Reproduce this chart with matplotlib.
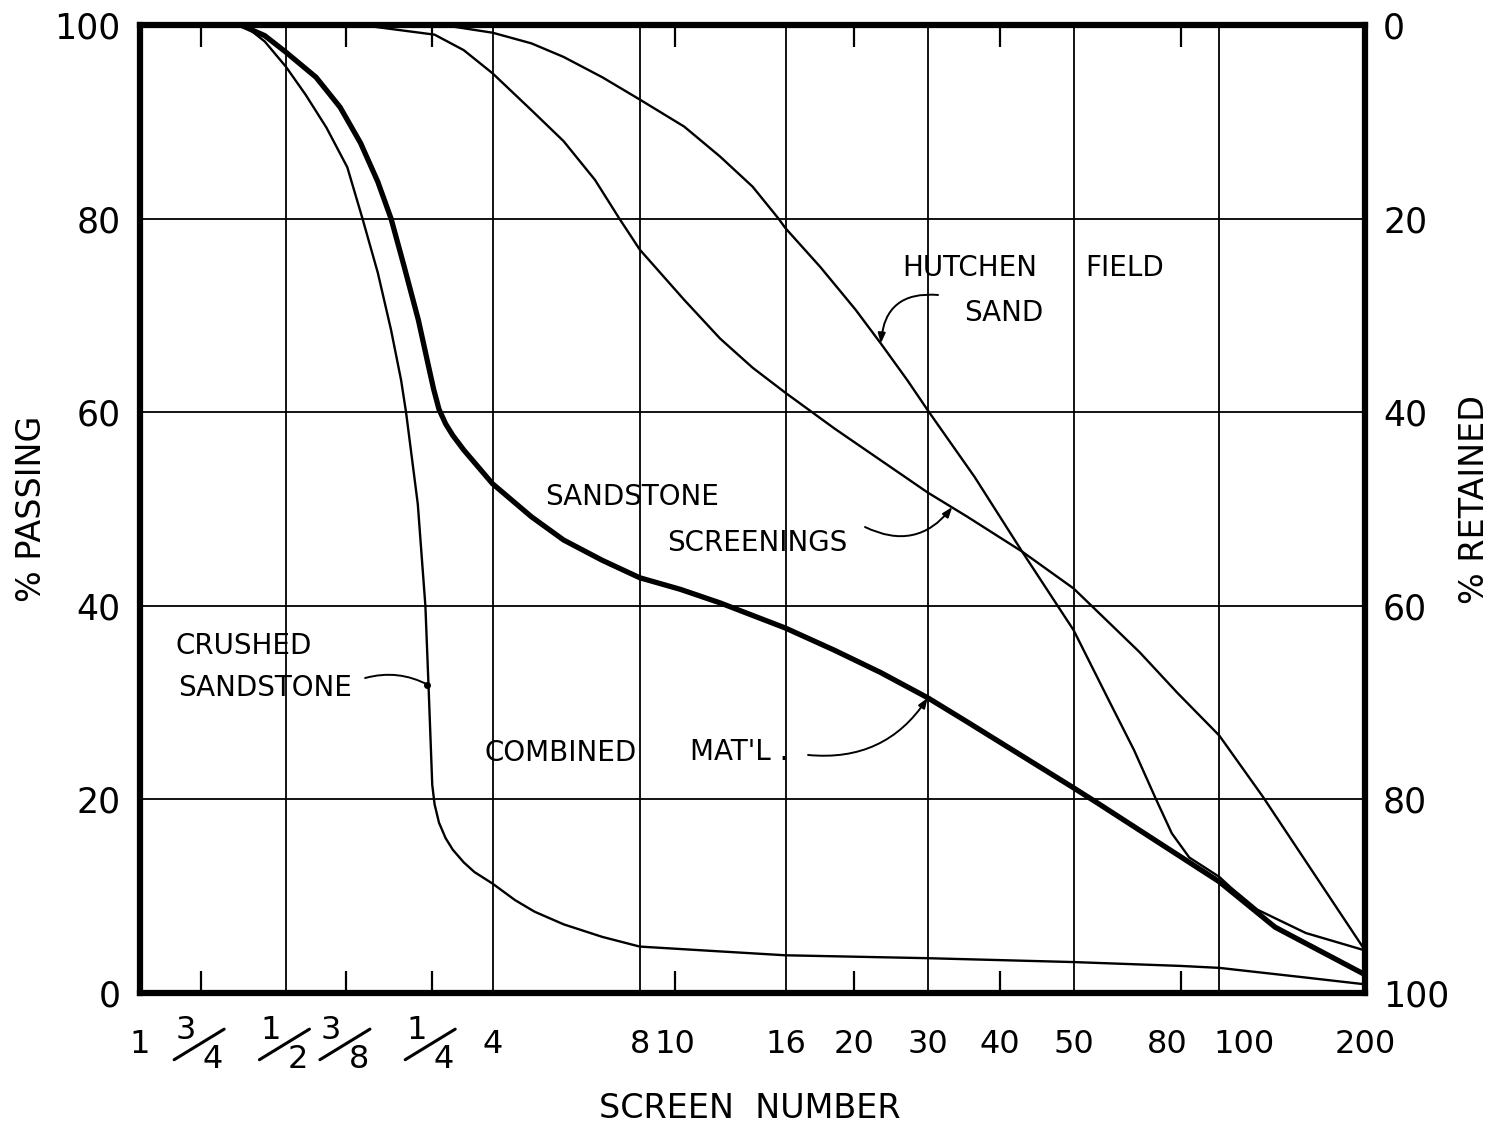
import matplotlib.pyplot as plt
import matplotlib.transforms as mtransforms
from matplotlib.ticker import NullFormatter

# screen openings (mm) and the way each screen is lettered on the chart
sieve_mm = [25.4, 19.05, 12.7, 9.525, 6.35, 4.75, 2.36, 2.0, 1.18, 0.85, 0.6, 0.425, 0.3, 0.18, 0.15, 0.075]
sieve_lbl = ['1', '3/4', '1/2', '3/8', '1/4', '4', '8', '10', '16', '20', '30', '40', '50', '80', '100', '200']
grid_mm = [12.7, 4.75, 2.36, 1.18, 0.6, 0.3, 0.15]
short_mm = [19.05, 9.525, 6.35, 2.0, 0.85, 0.425, 0.18]

# % passing for each material
crushed_mm = [15.5, 14.04, 12.7, 11.56, 10.47, 9.48, 8.82, 8.20, 7.70, 7.34, 7.17, 6.78, 6.54,
              6.44, 6.33, 6.26, 6.13, 5.94, 5.74, 5.45, 5.18, 4.75, 4.27, 3.89, 3.39, 2.82,
              2.36, 1.61, 1.18, 0.6, 0.3, 0.18, 0.15, 0.0994, 0.075]
crushed_pct = [100, 98.3, 95.7, 92.8, 89.4, 85.3, 80.0, 74.4, 68.5, 63.3, 60.0, 50.5, 40.0,
               31.5, 21.5, 19.5, 17.6, 16.0, 14.8, 13.5, 12.5, 11.3, 9.6, 8.4, 7.1, 5.8,
               4.8, 4.3, 3.9, 3.6, 3.2, 2.8, 2.6, 1.6, 0.9]

comb_mm = [15.75, 14.04, 12.7, 11.0, 9.81, 8.90, 8.20, 7.70, 7.23, 6.76, 6.44, 6.29, 6.13,
           5.94, 5.74, 5.45, 4.75, 3.95, 3.39, 2.82, 2.36, 1.945, 1.61, 1.18, 0.934, 0.75,
           0.6, 0.497, 0.3, 0.269, 0.15, 0.115, 0.075]
comb_pct = [100, 98.9, 97.2, 94.6, 91.5, 87.8, 83.8, 80.0, 75.0, 69.5, 64.7, 62.4, 60.3,
            58.8, 57.6, 56.1, 52.6, 49.2, 46.8, 44.7, 42.9, 41.7, 40.3, 37.7, 35.4, 33.1,
            30.5, 28.0, 21.2, 19.7, 11.5, 6.8, 1.9]

hut_mm = [6.03, 4.75, 3.95, 3.39, 2.82, 2.36, 1.91, 1.61, 1.38, 1.22, 1.18, 1.00, 0.846,
          0.75, 0.661, 0.6, 0.48, 0.383, 0.3, 0.254, 0.225, 0.203, 0.188, 0.173, 0.15,
          0.142, 0.125, 0.0994, 0.075]
hut_pct = [100, 99.2, 98.1, 96.7, 94.6, 92.3, 89.5, 86.4, 83.3, 80.0, 79.0, 75.0, 70.6,
           67.1, 63.3, 60.2, 53.3, 45.6, 37.5, 30.3, 25.1, 20.1, 16.5, 14.0, 12.0,
           10.9, 8.6, 6.2, 4.4]

scr_mm = [8.9, 6.26, 5.45, 4.75, 3.95, 3.39, 2.92, 2.60, 2.36, 1.91, 1.61, 1.38, 1.18,
          0.934, 0.6, 0.497, 0.383, 0.3, 0.219, 0.183, 0.15, 0.122, 0.075]
scr_pct = [100, 99.0, 97.4, 95.0, 91.2, 88.0, 84.0, 80.0, 76.8, 71.6, 67.6, 64.6, 62.0,
           58.3, 51.7, 49.2, 45.6, 41.8, 35.2, 31.0, 26.6, 20.3, 4.4]

plt.rcParams['font.family'] = 'DejaVu Sans'

fig = plt.figure(figsize=(14.93, 11.30), dpi=100)
ax = fig.add_axes([0.0938, 0.1212, 0.8205, 0.8567])

ax.plot(crushed_mm, crushed_pct, color='k', lw=1.7)
ax.plot(comb_mm, comb_pct, color='k', lw=3.8, solid_capstyle='round', solid_joinstyle='round')
ax.plot(hut_mm, hut_pct, color='k', lw=1.7)
ax.plot(scr_mm, scr_pct, color='k', lw=1.7)

ax.set_xscale('log')
ax.set_xlim(25.4, 0.075)
ax.set_ylim(0, 100)

ax2 = ax.twinx()
ax2.set_ylim(100, 0)
ax2.set_yticks([0, 20, 40, 60, 80, 100])
ax2.tick_params(axis='y', length=0, labelsize=25, pad=13)
for s in ax2.spines.values():
    s.set_visible(False)

ax.set_xticks(grid_mm)
ax.set_xticks(short_mm, minor=True)
ax.xaxis.set_major_formatter(NullFormatter())
ax.xaxis.set_minor_formatter(NullFormatter())
ax.tick_params(axis='x', which='major', length=0)
ax.tick_params(axis='x', which='minor', direction='in', length=16, width=1.6,
               top=True, bottom=True)
ax.set_yticks([0, 20, 40, 60, 80, 100])
ax.tick_params(axis='y', length=0, labelsize=25, pad=14)
ax.grid(axis='x', which='major', color='k', lw=1.3)
ax.grid(axis='y', color='k', lw=1.3)
for s in ax.spines.values():
    s.set_linewidth(4.5)

# screen numbers along the bottom; fractions are lettered with a long slash
xt = ax.get_xaxis_transform()
lbl_kw = dict(xycoords=xt, textcoords='offset points', fontsize=23, va='center')
for size, lbl in zip(sieve_mm, sieve_lbl):
    if '/' in lbl:
        num, den = lbl.split('/')
        ax.annotate(num, xy=(size, 0), xytext=(-11, -27), ha='center', **lbl_kw)
        ax.annotate(den, xy=(size, 0), xytext=(9, -48), ha='center', **lbl_kw)
        base = xt + mtransforms.ScaledTranslation(-19 / 72, -48 / 72, fig.dpi_scale_trans)
        ax.annotate('', xy=(size, 0), xycoords=base, xytext=(36, 22),
                    textcoords='offset points',
                    arrowprops=dict(arrowstyle='-', lw=2.2, shrinkA=0, shrinkB=0))
    elif lbl == '80':
        ax.annotate(lbl, xy=(size, 0), xytext=(5, -37), ha='right', **lbl_kw)
    elif lbl == '100':
        ax.annotate(lbl, xy=(size, 0), xytext=(-4, -37), ha='left', **lbl_kw)
    else:
        ax.annotate(lbl, xy=(size, 0), xytext=(0, -37), ha='center', **lbl_kw)

ax.text(0.498, -0.119, 'SCREEN  NUMBER', transform=ax.transAxes, fontsize=24,
        ha='center', va='center')
ax.set_ylabel('% PASSING', fontsize=24)
ax.yaxis.set_label_coords(-0.075, 0.5)
ax2.set_ylabel('% RETAINED', fontsize=24)
ax2.yaxis.set_label_coords(1.076, 0.51)

# curve names with leaders
tk = dict(transform=ax.transAxes, fontsize=20, va='center')
ax.text(0.677, 0.749, 'HUTCHEN', ha='center', **tk)
ax.text(0.804, 0.749, 'FIELD', ha='center', **tk)
ax.text(0.705, 0.702, 'SAND', ha='center', **tk)
ax.text(0.402, 0.512, 'SANDSTONE', ha='center', **tk)
ax.text(0.504, 0.465, 'SCREENINGS', ha='center', **tk)
ax.text(0.029, 0.358, 'CRUSHED', ha='left', **tk)
ax.text(0.031, 0.315, 'SANDSTONE', ha='left', **tk)
ax.text(0.343, 0.248, 'COMBINED', ha='center', **tk)
ax.text(0.449, 0.249, "MAT'L .", ha='left', **tk)

arr = dict(arrowstyle='-|>,head_length=0.6,head_width=0.22', lw=1.4, color='k',
           shrinkA=0, shrinkB=0)
ax.annotate('', xy=(0.75, 67.1), xytext=(0.6514, 0.7211), textcoords='axes fraction',
            arrowprops=dict(connectionstyle='arc3,rad=0.5', **arr))
ax.annotate('', xy=(0.534, 50.2), xytext=(0.5918, 0.4814), textcoords='axes fraction',
            arrowprops=dict(connectionstyle='arc3,rad=0.4', **arr))
ax.annotate('', xy=(0.6, 30.5), xytext=(0.5453, 0.2459), textcoords='axes fraction',
            arrowprops=dict(connectionstyle='arc3,rad=0.3', **arr))
ax.annotate('', xy=(6.44, 31.8), xytext=(0.1837, 0.3254), textcoords='axes fraction',
            arrowprops=dict(arrowstyle='-', lw=1.4, color='k', shrinkA=0, shrinkB=0,
                            connectionstyle='arc3,rad=-0.2'))
ax.plot([6.50], [31.8], 'o', color='k', ms=4)

fig.savefig('out.png', dpi=100)
